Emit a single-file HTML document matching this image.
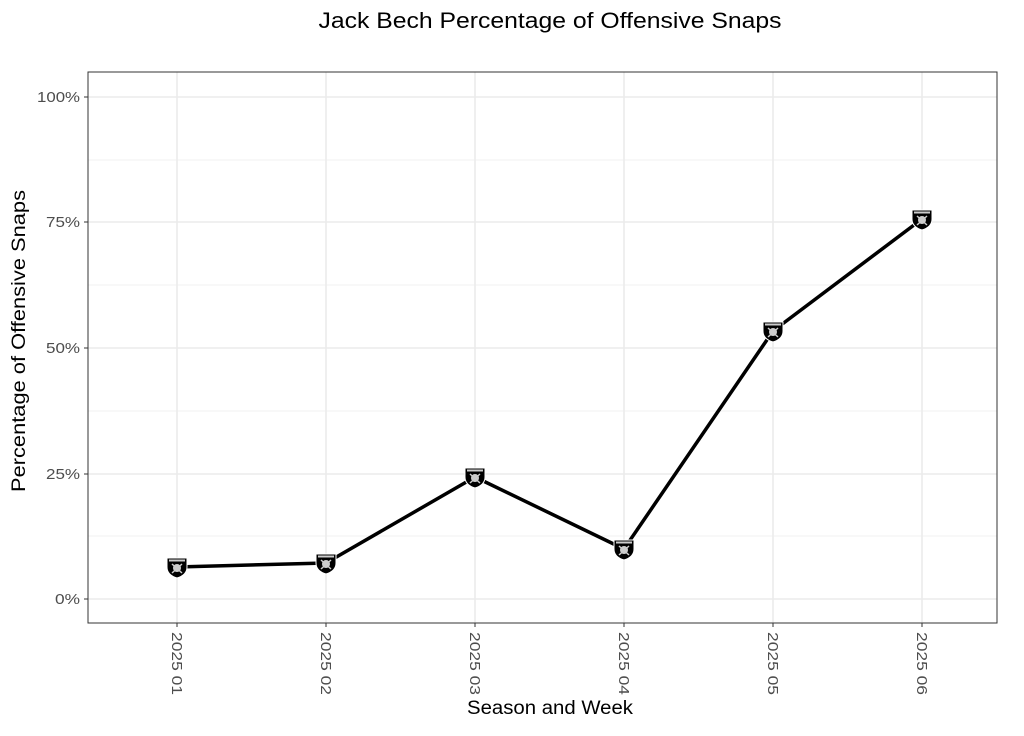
<!DOCTYPE html>
<html><head><style>body{margin:0;background:#fff}</style></head><body>
<svg width="1024" height="731" xmlns="http://www.w3.org/2000/svg" font-family="Liberation Sans, DejaVu Sans, sans-serif">
<defs>
<g id="s"><path d="M-10,-9 L10,-9 L10,0 Q10,8 0,11 Q-10,8 -10,0 Z" fill="#000" stroke="#fff" stroke-width="1"/><rect x="-8" y="-7.5" width="16" height="2" fill="#ccc"/><circle cx="0" cy="1" r="4" fill="#ccc"/><path d="M-5,-3 L5,6 M5,-3 L-5,6" stroke="#ccc" stroke-width="1.5"/></g>
</defs>
<text x="550" y="28" text-anchor="middle" font-size="22" fill="#000" textLength="463" lengthAdjust="spacingAndGlyphs">Jack Bech Percentage of Offensive Snaps</text>
<g stroke="#ebebeb" stroke-width="0.8">
<line x1="88" x2="997" y1="536" y2="536"/><line x1="88" x2="997" y1="411" y2="411"/><line x1="88" x2="997" y1="285" y2="285"/><line x1="88" x2="997" y1="160" y2="160"/>
</g>
<g stroke="#ebebeb" stroke-width="1.6">
<line x1="88" x2="997" y1="599" y2="599"/><line x1="88" x2="997" y1="474" y2="474"/><line x1="88" x2="997" y1="348" y2="348"/><line x1="88" x2="997" y1="222" y2="222"/><line x1="88" x2="997" y1="97" y2="97"/>
<line x1="177" x2="177" y1="72" y2="623"/><line x1="326" x2="326" y1="72" y2="623"/><line x1="475" x2="475" y1="72" y2="623"/><line x1="624" x2="624" y1="72" y2="623"/><line x1="773" x2="773" y1="72" y2="623"/><line x1="922" x2="922" y1="72" y2="623"/>
</g>
<rect x="88" y="72" width="909" height="551" fill="none" stroke="#333" stroke-width="1"/>
<g stroke="#333" stroke-width="1">
<line x1="84" x2="88" y1="599" y2="599"/><line x1="84" x2="88" y1="474" y2="474"/><line x1="84" x2="88" y1="348" y2="348"/><line x1="84" x2="88" y1="222" y2="222"/><line x1="84" x2="88" y1="97" y2="97"/>
<line x1="177" x2="177" y1="623" y2="627"/><line x1="326" x2="326" y1="623" y2="627"/><line x1="475" x2="475" y1="623" y2="627"/><line x1="624" x2="624" y1="623" y2="627"/><line x1="773" x2="773" y1="623" y2="627"/><line x1="922" x2="922" y1="623" y2="627"/>
</g>
<g font-size="15" fill="#4d4d4d" text-anchor="end">
<text x="80" y="604" textLength="25" lengthAdjust="spacingAndGlyphs">0%</text><text x="80" y="479" textLength="34" lengthAdjust="spacingAndGlyphs">25%</text><text x="80" y="353" textLength="34" lengthAdjust="spacingAndGlyphs">50%</text><text x="80" y="227" textLength="34" lengthAdjust="spacingAndGlyphs">75%</text><text x="80" y="102" textLength="43" lengthAdjust="spacingAndGlyphs">100%</text>
</g>
<g font-size="15" fill="#4d4d4d">
<text transform="translate(172,632) rotate(90)" textLength="63" lengthAdjust="spacingAndGlyphs">2025 01</text>
<text transform="translate(321,632) rotate(90)" textLength="63" lengthAdjust="spacingAndGlyphs">2025 02</text>
<text transform="translate(470,632) rotate(90)" textLength="63" lengthAdjust="spacingAndGlyphs">2025 03</text>
<text transform="translate(619,632) rotate(90)" textLength="63" lengthAdjust="spacingAndGlyphs">2025 04</text>
<text transform="translate(768,632) rotate(90)" textLength="63" lengthAdjust="spacingAndGlyphs">2025 05</text>
<text transform="translate(917,632) rotate(90)" textLength="63" lengthAdjust="spacingAndGlyphs">2025 06</text>
</g>
<text x="550" y="714" text-anchor="middle" font-size="19" textLength="166" lengthAdjust="spacingAndGlyphs">Season and Week</text>
<text transform="translate(25,341) rotate(-90)" text-anchor="middle" font-size="19" textLength="302" lengthAdjust="spacingAndGlyphs">Percentage of Offensive Snaps</text>
<polyline points="177,567 326,563 475,477 624,549 773,331 922,219" fill="none" stroke="#000" stroke-width="3.5" stroke-linejoin="round"/>
<use href="#s" x="177" y="567"/><use href="#s" x="326" y="563"/><use href="#s" x="475" y="477"/><use href="#s" x="624" y="549"/><use href="#s" x="773" y="331"/><use href="#s" x="922" y="219"/>
</svg>
</body></html>
